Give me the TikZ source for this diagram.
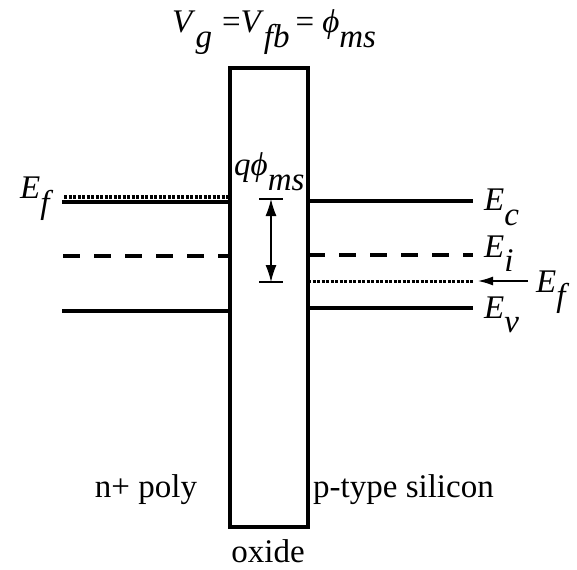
\documentclass[tikz,border=0pt]{standalone}
\usepackage{fontspec}
\setmainfont{Liberation Serif}
\usetikzlibrary{arrows.meta}
\newcommand{\lev}[2]{\textit{#1}\raisebox{-0.45em}{\textit{#2}}}
\tikzset{
  band/.style={line width=3.3pt},
  midgap/.style={line width=3.3pt,dash pattern=on 17pt off 14pt},
  fermi/.style={line width=3pt,dash pattern=on 3pt off 1.5pt},
  oxbox/.style={draw,line width=3.5pt,minimum width=78pt,minimum height=459pt,inner sep=0pt},
  lbl/.style={inner sep=0pt,font=\fontsize{33}{36}\selectfont},
  pointer/.style={line width=1.3pt,-{Latex[length=15pt,width=9pt]}},
  span/.style={line width=1.3pt,{Latex[length=17pt,width=11pt]}-{Latex[length=17pt,width=11pt]}}
}
\begin{document}
\begin{tikzpicture}[x=1pt,y=-1pt]
  \useasboundingbox (0,0) rectangle (577,569);
  \node[oxbox] (ox) at (269,297.5) {};
  % n+ poly side
  \draw[band] (62,202) -- (230,202);
  \draw[fermi] (64,197) -- (230,197);
  \draw[midgap] (63,256) -- (230,256);
  \draw[band] (62,311) -- (230,311);
  % p-type side
  \draw[band] (308,201) -- (473,201);
  \draw[midgap] (308,255) -- (473,255);
  \draw[fermi] (308,281) -- (473,281);
  \draw[band] (308,308) -- (473,308);
  % work function difference
  \coordinate (qtop) at (271,199);
  \coordinate (qbot) at (271,282);
  \draw[line width=1.3pt] (259,199) -- (283,199) (259,282) -- (283,282);
  \draw[span] (qtop) -- (qbot);
  \node[lbl,anchor=base west] (qms) at (234,176) {\textit{q}\lev{ϕ}{ms}};
  % labels
  \node[lbl,anchor=base west] (efl) at (20,199) {\lev{E}{f}};
  \node[lbl,anchor=base west] (ec) at (484,211) {\lev{E}{c}};
  \node[lbl,anchor=base west] (ei) at (484,257) {\lev{E}{i}};
  \node[lbl,anchor=base west] (efr) at (536,292) {\lev{E}{f}};
  \node[lbl,anchor=base west] (ev) at (484,318) {\lev{E}{v}};
  \coordinate (eftip) at (478,281);
  \draw[pointer] (efr.west |- eftip) ++(-8,0) coordinate (eftail) -- (eftip);
  \node[lbl,anchor=base west] (vg) at (172,33)
    {\lev{V}{g}\hspace{10pt}=\lev{V}{fb}\hspace{6pt}=\hspace{8pt}\lev{ϕ}{ms}};
  \node[lbl,anchor=base] (npoly) at (146,497) {n+ poly};
  \node[lbl,anchor=base west] (psi) at (313,497) {p-type silicon};
  \node[lbl,anchor=base] (oxl) at (268,562) {oxide};
\end{tikzpicture}
\end{document}
